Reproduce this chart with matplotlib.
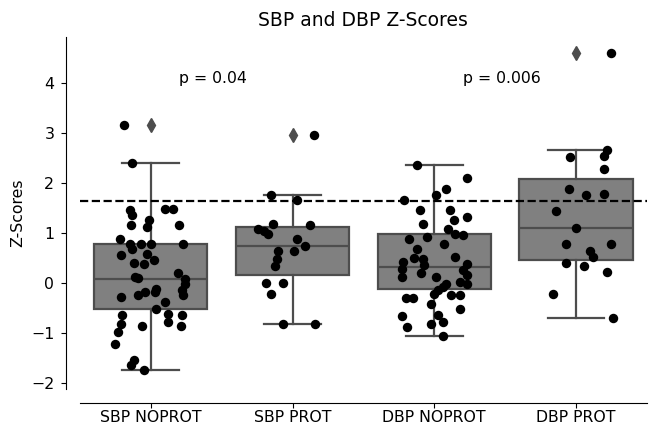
import matplotlib
matplotlib.use("Agg")
import matplotlib.pyplot as plt
import numpy as np

categories = ["SBP NOPROT", "SBP PROT", "DBP NOPROT", "DBP PROT"]

# z-score values of each group and the horizontal jitter offset of every dot
sbp_noprot = [3.16, 2.41, 1.46, 1.36, 1.49, 1.49, 1.26, 1.16, 1.13, 1.16,
              0.89, 0.79, 0.69, 0.79, 0.78, 0.78, 0.56, 0.59, 0.41, 0.39,
              0.46, 0.21, 0.12, 0.10, 0.09, -0.01, -0.14, -0.24, -0.27, -0.24,
              -0.17, -0.17, -0.11, -0.37, -0.51, -0.61, -0.77, -0.64, -0.86, -0.64,
              -0.81, -0.97, -0.86, -1.21, -1.54, -1.64, -1.74]
sbp_noprot_jit = [-0.19, -0.13, -0.15, -0.13, 0.10, 0.16, -0.01, -0.14, -0.03, 0.20,
                  -0.22, -0.15, -0.13, -0.07, 0.00, 0.23, -0.21, -0.03, -0.12, -0.05,
                  0.02, 0.19, -0.11, -0.09, 0.24, 0.24, 0.22, 0.23, -0.21, -0.09,
                  -0.04, 0.03, 0.04, 0.10, 0.04, 0.12, 0.12, 0.22, 0.21, -0.20,
                  -0.21, -0.23, -0.06, -0.25, -0.12, -0.14, -0.05]

sbp_prot = [2.96, 1.76, 1.66, 1.18, 1.09, 1.05, 0.98, 1.17, 0.89, 0.74,
            0.65, 0.65, 0.49, 0.34, 0.01, 0.01, -0.21, -0.81, -0.81]
sbp_prot_jit = [0.15, -0.15, 0.03, -0.14, -0.24, -0.20, -0.17, 0.12, 0.03, 0.09,
                0.01, -0.10, -0.11, -0.12, -0.19, -0.07, -0.15, -0.07, 0.16]

dbp_noprot = [2.36, 2.11, 1.89, 1.77, 1.66, 1.46, 1.46, 1.19, 1.26, 1.33,
              1.08, 0.99, 0.97, 0.93, 0.89, 0.79, 0.68, 0.51, 0.49, 0.53,
              0.43, 0.36, 0.39, 0.29, 0.26, 0.21, 0.13, 0.17, 0.13, 0.03,
              -0.01, -0.01, -0.07, -0.14, -0.21, -0.23, -0.24, -0.30, -0.30, -0.41,
              -0.51, -0.66, -0.87, -0.81, -0.64, -0.77, -1.06]
dbp_noprot_jit = [-0.12, 0.23, 0.08, 0.01, -0.21, -0.10, 0.11, -0.08, 0.14, 0.23,
                  0.10, 0.15, 0.20, -0.05, -0.18, 0.07, -0.12, -0.14, -0.08, 0.15,
                  -0.22, -0.07, 0.23, -0.23, 0.20, -0.09, -0.23, 0.23, 0.01, 0.18,
                  0.23, 0.08, 0.06, 0.03, 0.00, 0.18, 0.12, -0.20, -0.15, -0.02,
                  0.18, -0.23, -0.19, -0.02, 0.03, 0.06, 0.06]

dbp_prot = [4.61, 2.67, 2.54, 2.53, 2.29, 1.88, 1.77, 1.78, 1.45, 1.11,
            0.79, 0.79, 0.65, 0.53, 0.41, 0.35, 0.23, -0.21, -0.69]
dbp_prot_jit = [0.25, 0.22, 0.20, -0.04, 0.20, -0.05, 0.07, 0.20, -0.14, 0.00,
                -0.07, 0.25, 0.10, 0.12, -0.07, 0.06, 0.22, -0.16, 0.26]

groups = [sbp_noprot, sbp_prot, dbp_noprot, dbp_prot]
jitters = [sbp_noprot_jit, sbp_prot_jit, dbp_noprot_jit, dbp_prot_jit]

# box statistics as drawn in the chart
q1 = [-0.52, 0.16, -0.11, 0.47]
med = [0.09, 0.74, 0.32, 1.11]
q3 = [0.79, 1.13, 0.98, 2.09]
whislo = [-1.74, -0.81, -1.06, -0.69]
whishi = [2.41, 1.76, 2.36, 2.66]
fliers = [[3.16], [2.96], [], [4.61]]

threshold = 1.645
p_labels = ["p = 0.04", "p = 0.006"]
p_x = [0.2, 2.2]
p_y = 4.0

plt.rcParams["font.size"] = 11.3
plt.rcParams["axes.titlesize"] = 13.5
plt.rcParams["xtick.major.pad"] = 1.5
plt.rcParams["ytick.major.pad"] = 5.0

fig = plt.figure(figsize=(6.5, 4.3), dpi=100)
ax = fig.add_axes([0.123, 0.095, 0.872, 0.819])

line_col = "#4d4d4d"
stats = []
for i in range(len(categories)):
    stats.append(dict(med=med[i], q1=q1[i], q3=q3[i], whislo=whislo[i],
                      whishi=whishi[i], fliers=fliers[i]))

ax.bxp(stats, positions=np.arange(len(categories)), widths=0.8,
       patch_artist=True, manage_ticks=False,
       boxprops=dict(facecolor="#808080", edgecolor=line_col, linewidth=1.6),
       whiskerprops=dict(color=line_col, linewidth=1.6),
       capprops=dict(color=line_col, linewidth=1.6),
       medianprops=dict(color=line_col, linewidth=1.6),
       flierprops=dict(marker="d", markerfacecolor=line_col,
                       markeredgecolor=line_col, markersize=7, linestyle="none"))

# strip plot dots
for i, (vals, jit) in enumerate(zip(groups, jitters)):
    xs = i + np.array(jit)
    ax.plot(xs, vals, "o", color="black", markersize=6.8,
            markeredgewidth=0, zorder=3)

ax.axhline(threshold, color="black", linestyle="--", linewidth=1.6, zorder=4)

for lab, x in zip(p_labels, p_x):
    ax.text(x, p_y, lab)

ax.set_xlim(-0.5, 3.5)
ax.set_ylim(-2.12, 4.93)
ax.set_xticks(np.arange(len(categories)))
ax.set_xticklabels(categories)
ax.set_yticks([-2, -1, 0, 1, 2, 3, 4])
ax.set_ylabel("Z-Scores")
ax.set_title("SBP and DBP Z-Scores", pad=8)

# despine with offset
ax.spines["top"].set_visible(False)
ax.spines["right"].set_visible(False)
ax.spines["left"].set_position(("outward", 10))
ax.spines["bottom"].set_position(("outward", 10))

plt.savefig("out.png", dpi=100)
